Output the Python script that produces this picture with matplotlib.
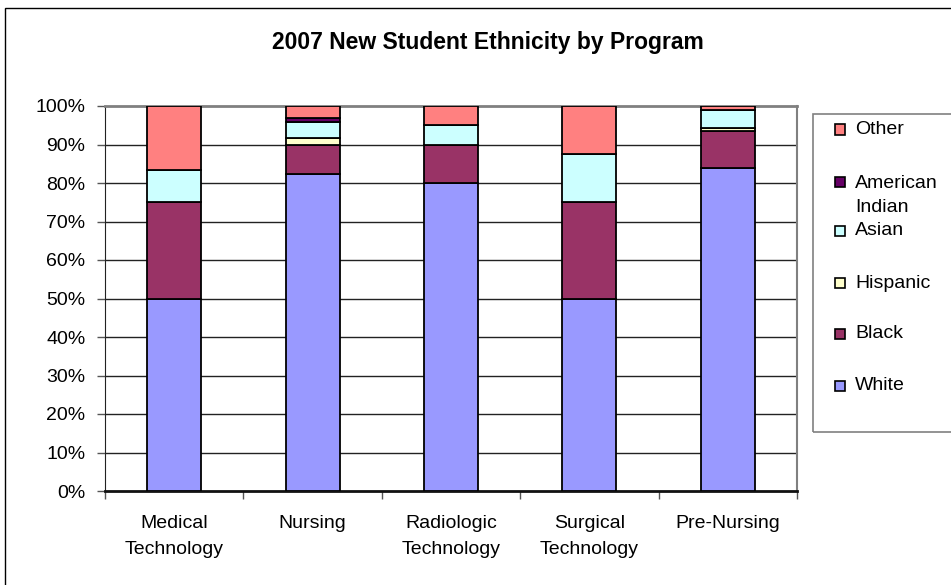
import matplotlib
matplotlib.use("Agg")
import matplotlib.pyplot as plt
from matplotlib.patches import Rectangle
import numpy as np

plt.rcParams['font.family'] = ['Liberation Sans', 'DejaVu Sans']

categories = ["Medical\nTechnology", "Nursing", "Radiologic\nTechnology",
              "Surgical\nTechnology", "Pre-Nursing"]
series_names = ["White", "Black", "Hispanic", "Asian", "American\nIndian", "Other"]
white = [50.0, 82.3, 80.0, 50.0, 83.8]
black = [25.0, 7.6, 10.0, 25.0, 9.6]
hispanic = [0.0, 1.9, 0.0, 0.0, 1.0]
asian = [8.3, 4.0, 5.0, 12.5, 4.5]
american_indian = [0.0, 1.1, 0.0, 0.0, 0.1]
other = [16.7, 3.1, 5.0, 12.5, 1.0]
colors = ["#9999FF", "#993366", "#FFFFCC", "#CCFFFF", "#660066", "#FF8080"]
yticks = [0, 10, 20, 30, 40, 50, 60, 70, 80, 90, 100]

W, H = 951, 585
fig = plt.figure(figsize=(W / 100, H / 100), dpi=100)

# outer chart border
fig.patches.append(Rectangle((5 / W, -0.05), 1.1, 1 - 8 / H + 0.05,
                             transform=fig.transFigure, fill=False,
                             edgecolor="black", linewidth=1.0, zorder=0))

ax = fig.add_axes([105 / W, (H - 491) / H, (797 - 105) / W, (491 - 106) / H])

x = np.arange(len(categories))
series = [white, black, hispanic, asian, american_indian, other]
bottom = np.zeros(len(categories))
for vals, col in zip(series, colors):
    ax.bar(x, vals, width=0.39, bottom=bottom, color=col, edgecolor="black",
           linewidth=1.3, zorder=3)
    bottom += np.array(vals)

ax.set_xlim(-0.5, len(categories) - 0.5)
ax.set_ylim(0, 100)
ax.set_yticks(yticks)
ax.set_yticklabels([f"{t}%" for t in yticks], fontsize=14)
for t in yticks[1:-1]:
    ax.axhline(t, color="#222222", linewidth=1.0, zorder=1)

ax.set_xticks(x)
ax.set_xticklabels(categories, fontsize=14, linespacing=1.65)
ax.set_xticks(np.arange(len(categories) + 1) - 0.5, minor=True)
ax.tick_params(axis="x", which="major", length=0, pad=17.5)
ax.tick_params(axis="x", which="minor", length=6, width=1, color="#555555")
ax.tick_params(axis="y", length=6, width=1, pad=8, color="#555555")

ax.spines["left"].set_color("#222222")
ax.spines["bottom"].set_color("#111111")
ax.spines["bottom"].set_linewidth(2)
ax.spines["top"].set_color("#808080")
ax.spines["top"].set_linewidth(2)
ax.spines["right"].set_color("#808080")
ax.spines["right"].set_linewidth(1.5)

fig.text(488 / W, 1 - 43 / H, "2007 New Student Ethnicity by Program",
         fontsize=16.5, fontweight="bold", ha="center", va="center")

# legend box
fig.patches.append(Rectangle((813 / W, 1 - 432 / H), 0.3, (432 - 114) / H,
                             transform=fig.transFigure, fill=False,
                             edgecolor="#808080", linewidth=1.2))
legend_y = [129.5, 182, 231, 283, 334, 386]
order = [5, 4, 3, 2, 1, 0]
for yy, idx in zip(legend_y, order):
    fig.patches.append(Rectangle((835 / W, 1 - (yy + 5) / H), 10 / W, 10 / H,
                                 transform=fig.transFigure,
                                 facecolor=colors[idx], edgecolor="black",
                                 linewidth=1.2))
    if "\n" in series_names[idx]:
        fig.text(855 / W, 1 - (yy - 7.5) / H, series_names[idx], fontsize=14,
                 ha="left", va="top", linespacing=1.55)
    else:
        fig.text(855 / W, 1 - yy / H, series_names[idx], fontsize=14,
                 ha="left", va="center")

fig.savefig("out.png", dpi=100)
